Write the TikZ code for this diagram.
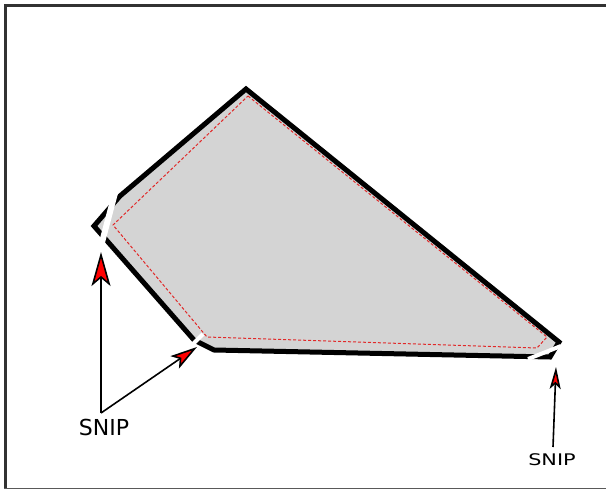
\documentclass[tikz,border=0pt]{standalone}
\usepackage{fontspec}
\setmainfont{DejaVu Sans}
\usetikzlibrary{arrows.meta}
\definecolor{shapegray}{RGB}{212,212,212}
\definecolor{dashred}{RGB}{225,40,40}
\definecolor{framegray}{RGB}{50,50,50}
\begin{document}
\begin{tikzpicture}[x=1pt,y=-1pt,
  outline/.style={draw=black,line width=5pt,line join=miter,miter limit=4},
  snipcut/.style={draw=white,line width=#1},
  inner/.style={draw=dashred,line width=1pt,dash pattern=on 3pt off 2pt},
  pointer/.style={draw=black,line width=1.6pt},
  label/.style={font=\fontsize{22}{24}\selectfont,inner sep=0pt}]
\useasboundingbox (0,0) rectangle (606,490);
\fill[white] (0,0) rectangle (606,490);
% frame
\draw[framegray,line width=3pt] (4,5.5) -- (606,5.5);
\draw[framegray,line width=2.5pt] (5.5,4) -- (5.5,489);
\draw[gray!70!black,line width=1.5pt] (4,488.5) -- (606,488.5);
% shape
\coordinate (ul) at (120,196);
\coordinate (top) at (246,89);
\coordinate (rt) at (559,342);
\coordinate (br) at (550,357);
\coordinate (bl) at (214,350);
\coordinate (blc) at (194,340);
\coordinate (lt) at (94,226);
\fill[shapegray] (ul) -- (top) -- (rt) -- (br) -- (bl) -- (blc) -- (lt) -- cycle;
\draw[outline] (ul) -- (top) -- (rt) -- (br) -- (bl) -- (blc) -- (lt) -- cycle;
% inner dashed line
\draw[inner] (248,96) -- (547,337) -- (537,348) -- (207,337) -- (113,225) -- cycle;
% snips
\coordinate (s1a) at (115,193); \coordinate (s1b) at (100,250);
\coordinate (s2a) at (187,350); \coordinate (s2b) at (203,334);
\coordinate (s3a) at (528,359); \coordinate (s3b) at (561,346);
\draw[snipcut=6pt] (s1a) -- (s1b);
\draw[snipcut=4pt] (s2a) -- (s2b);
\draw[snipcut=4pt] (s3a) -- (s3b);
% labels and arrows
\node[label] (snipA) at (104,427) {SNIP};
\node[inner sep=0pt,font=\fontsize{16}{18}\selectfont,xscale=1.3] (snipB) at (552,460) {SNIP};
\coordinate (hub) at (101,413);
\coordinate (tipA) at (101,252);
\coordinate (tipB) at (197,347);
\coordinate (footC) at (553,447);
\coordinate (tipC) at (556,367);
\draw[pointer,-{Stealth[length=34pt,width=19pt,inset=8pt,fill=red]}] (hub) -- (tipA);
\draw[pointer,-{Stealth[length=27pt,width=15pt,inset=6pt,fill=red]}] (hub) -- (tipB);
\draw[pointer,-{Stealth[length=22pt,width=11pt,inset=5pt,fill=red]}] (footC) -- (tipC);
\end{tikzpicture}
\end{document}
